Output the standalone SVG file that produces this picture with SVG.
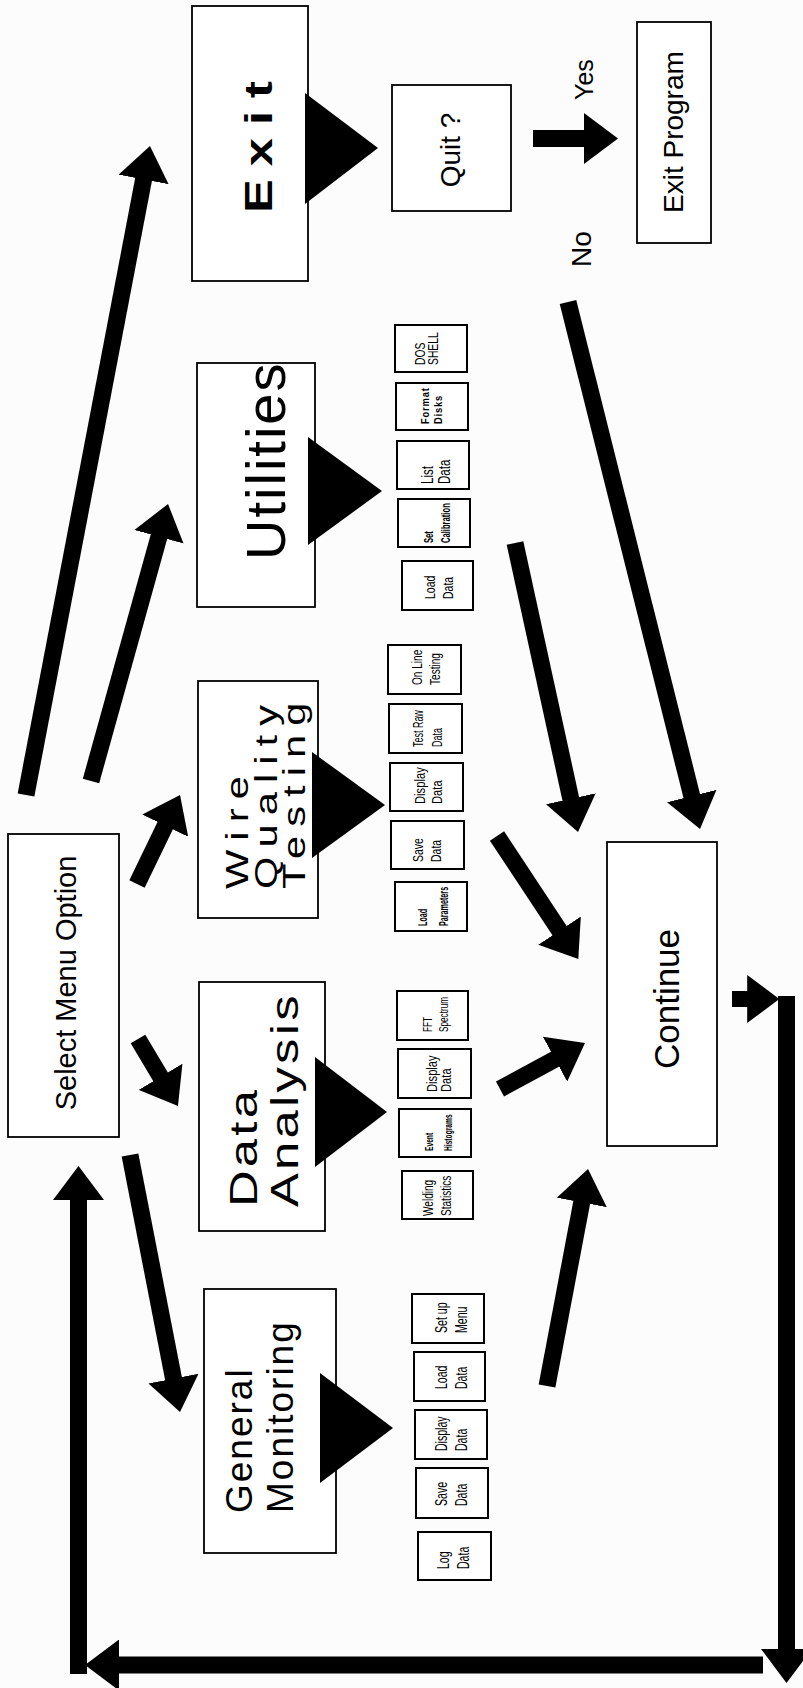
<svg xmlns="http://www.w3.org/2000/svg" width="803" height="1688" viewBox="0 0 803 1688">
<defs>
<style>
.box{fill:#fff;stroke:#000;stroke-width:1.8}
.sub{fill:#fff;stroke:#000;stroke-width:2}
.tri{fill:#000}
.arr{stroke:#000;stroke-width:17;fill:none;marker-end:url(#ah)}
text{font-family:"Liberation Sans",Arial,sans-serif;fill:#000}
.big{font-size:39px;letter-spacing:2.5px}
.sb{font-size:12px;font-weight:bold}
</style>
<marker id="ah" viewBox="0 0 2 3" markerWidth="2" markerHeight="3" refX="1.2" refY="1.5" orient="auto" markerUnits="strokeWidth"><path d="M0,0 L2,1.5 L0,3 z" fill="#000"/></marker>
</defs>
<rect width="803" height="1688" fill="#fcfcfc"/>

<g id="connectors">
<line class="arr" x1="26" y1="795" x2="147.4" y2="159.4"/>
<line class="arr" x1="91" y1="781" x2="164.4" y2="517.1"/>
<line class="arr" x1="137" y1="884" x2="174.1" y2="807.3"/>
<line class="arr" x1="138" y1="1039" x2="171" y2="1094.3"/>
<line class="arr" x1="130" y1="1155" x2="177.4" y2="1398.6"/>
<line class="arr" x1="533" y1="138.5" x2="604.4" y2="138.5"/>
<line class="arr" x1="568" y1="302" x2="696.7" y2="815.8"/>
<line class="arr" x1="515" y1="543" x2="575.1" y2="818.7"/>
<line class="arr" x1="497" y1="836" x2="570.8" y2="947.6"/>
<line class="arr" x1="500" y1="1089" x2="573" y2="1049.5"/>
<line class="arr" x1="547" y1="1386" x2="585.5" y2="1182.4"/>
<line class="arr" x1="732" y1="999" x2="766.4" y2="999" style="stroke-width:16"/>
<line class="arr" x1="786.5" y1="996" x2="786.5" y2="1669.4"/>
<line class="arr" x1="763" y1="1665" x2="98.6" y2="1665"/>
<line class="arr" x1="78.5" y1="1674" x2="78.5" y2="1179.6"/>
</g>

<g id="exit">
<rect class="box" x="192" y="6" width="116" height="275"/>
<text transform="translate(0,213) rotate(-90) scale(1.3,1)" style="font-size:39px;font-weight:bold;letter-spacing:10px"><tspan x="0" y="272">Exit</tspan></text>
<polygon class="tri" points="305,93 305,204 378,148"/>
</g>

<g id="quit">
<rect class="box" x="392" y="85" width="119" height="126"/>
<text transform="translate(0,150) rotate(-90)" style="font-size:28px" text-anchor="middle"><tspan x="0" y="460">Quit ?</tspan></text>
</g>

<g id="label-yes"><text transform="translate(0,100) rotate(-90)" style="font-size:25px"><tspan x="0" y="593">Yes</tspan></text></g>
<g id="label-no"><text transform="translate(0,267) rotate(-90)" style="font-size:28px"><tspan x="0" y="591">No</tspan></text></g>

<g id="exit-program">
<rect class="box" x="637" y="22" width="74" height="221"/>
<text transform="translate(0,213) rotate(-90)" style="font-size:28px"><tspan x="0" y="683">Exit Program</tspan></text>
</g>

<g id="utilities">
<rect class="box" x="197" y="363" width="118" height="244"/>
<text transform="translate(0,560) rotate(-90)" style="font-size:56px;letter-spacing:2px"><tspan x="0" y="285">Utilities</tspan></text>
<polygon class="tri" points="308,437 308,545 382,491"/>
</g>

<g id="wire-quality-testing">
<rect class="box" x="198" y="681" width="120" height="237"/>
<text transform="translate(0,889) rotate(-90) scale(1.3,1)" style="font-size:32px;letter-spacing:7px"><tspan x="0" y="248">Wire</tspan><tspan x="0" y="277">Quality</tspan><tspan x="0" y="305">Testing</tspan></text>
<polygon class="tri" points="312,752 312,858 385,805"/>
</g>

<g id="select-menu-option">
<rect class="box" x="8" y="834" width="111" height="303"/>
<text transform="translate(0,983) rotate(-90)" style="font-size:29px" text-anchor="middle"><tspan x="0" y="76">Select Menu Option</tspan></text>
</g>

<g id="data-analysis">
<rect class="box" x="199" y="982" width="126" height="249"/>
<text class="big" transform="translate(0,1207) rotate(-90) scale(1.3,1)"><tspan x="0" y="257">Data</tspan><tspan x="0" y="298">Analysis</tspan></text>
<polygon class="tri" points="315,1057 315,1167 387,1112"/>
</g>

<g id="continue">
<rect class="box" x="607" y="842" width="110" height="304"/>
<text transform="translate(0,999) rotate(-90)" style="font-size:35px" text-anchor="middle"><tspan x="0" y="679">Continue</tspan></text>
</g>

<g id="general-monitoring">
<rect class="box" x="204" y="1289" width="132" height="264"/>
<text transform="translate(0,1513) rotate(-90)" style="font-size:37px;letter-spacing:2px"><tspan x="0" y="252">General</tspan><tspan x="0" y="293">Monitoring</tspan></text>
<polygon class="tri" points="320,1373 320,1483 393,1428"/>
</g>

<g id="util-dos-shell">
<rect class="sub" x="395" y="325" width="72" height="47"/>
<text transform="translate(0,365) rotate(-90) scale(0.74,1)" style="font-size:14px"><tspan x="0" y="425">DOS</tspan><tspan x="0" y="438">SHELL</tspan></text>
</g>
<g id="util-format-disks">
<rect class="sub" x="396" y="383" width="72" height="47"/>
<text transform="translate(0,424) rotate(-90) scale(0.85,1)" style="font-size:11px;font-weight:bold;letter-spacing:1px"><tspan x="0" y="429">Format</tspan><tspan x="0" y="442">Disks</tspan></text>
</g>
<g id="util-list-data">
<rect class="sub" x="397" y="441" width="72" height="48"/>
<text transform="translate(0,484) rotate(-90) scale(0.72,1)" style="font-size:16px"><tspan x="0" y="433">List</tspan><tspan x="0" y="450">Data</tspan></text>
</g>
<g id="util-set-calibration">
<rect class="sub" x="398" y="499" width="72" height="48"/>
<text transform="translate(0,543) rotate(-90) scale(0.61,1)" style="font-size:12.5px;font-weight:bold"><tspan x="0" y="433">Set</tspan><tspan x="0" y="450">Calibration</tspan></text>
</g>
<g id="util-load-data">
<rect class="sub" x="402" y="561" width="71" height="49"/>
<text transform="translate(0,599) rotate(-90) scale(0.7,1)" style="font-size:15px"><tspan x="0" y="435">Load</tspan><tspan x="0" y="453">Data</tspan></text>
</g>

<g id="wqt-on-line-testing">
<rect class="sub" x="388" y="645" width="73" height="49"/>
<text transform="translate(0,685) rotate(-90) scale(0.72,1)" style="font-size:14px"><tspan x="0" y="422">On Line</tspan><tspan x="0" y="440">Testing</tspan></text>
</g>
<g id="wqt-test-raw-data">
<rect class="sub" x="389" y="704" width="73" height="49"/>
<text transform="translate(0,747) rotate(-90) scale(0.64,1)" style="font-size:14px"><tspan x="0" y="423">Test Raw</tspan><tspan x="0" y="442">Data</tspan></text>
</g>
<g id="wqt-display-data">
<rect class="sub" x="390" y="763" width="73" height="48"/>
<text transform="translate(0,804) rotate(-90) scale(0.75,1)" style="font-size:15px"><tspan x="0" y="425">Display</tspan><tspan x="0" y="442">Data</tspan></text>
</g>
<g id="wqt-save-data">
<rect class="sub" x="391" y="821" width="73" height="48"/>
<text transform="translate(0,862) rotate(-90) scale(0.7,1)" style="font-size:15px"><tspan x="0" y="423">Save</tspan><tspan x="0" y="441">Data</tspan></text>
</g>
<g id="wqt-load-parameters">
<rect class="sub" x="395" y="882" width="72" height="49"/>
<text class="sb" transform="translate(0,926) rotate(-90) scale(0.6,1)"><tspan x="0" y="427">Load</tspan><tspan x="0" y="448">Parameters</tspan></text>
</g>

<g id="da-fft-spectrum">
<rect class="sub" x="397" y="991" width="71" height="49"/>
<text transform="translate(0,1032) rotate(-90) scale(0.63,1)" style="font-size:13px"><tspan x="0" y="432">FFT</tspan><tspan x="0" y="448">Spectrum</tspan></text>
</g>
<g id="da-display-data">
<rect class="sub" x="398" y="1049" width="73" height="49"/>
<text transform="translate(0,1092) rotate(-90) scale(0.8,1)" style="font-size:14px"><tspan x="0" y="437">Display</tspan><tspan x="0" y="451">Data</tspan></text>
</g>
<g id="da-event-histograms">
<rect class="sub" x="399" y="1109" width="72" height="48"/>
<text transform="translate(0,1151) rotate(-90) scale(0.58,1)" style="font-size:11.5px;font-weight:bold"><tspan x="0" y="433">Event</tspan><tspan x="0" y="452">Histograms</tspan></text>
</g>
<g id="da-welding-statistics">
<rect class="sub" x="402" y="1171" width="71" height="48"/>
<text transform="translate(0,1216) rotate(-90) scale(0.72,1)" style="font-size:14px"><tspan x="0" y="433">Welding</tspan><tspan x="0" y="451">Statistics</tspan></text>
</g>

<g id="gm-set-up-menu">
<rect class="sub" x="412" y="1294" width="72" height="49"/>
<text transform="translate(0,1333) rotate(-90) scale(0.66,1)" style="font-size:16px"><tspan x="0" y="447">Set up</tspan><tspan x="0" y="467">Menu</tspan></text>
</g>
<g id="gm-load-data">
<rect class="sub" x="414" y="1352" width="71" height="49"/>
<text transform="translate(0,1389) rotate(-90) scale(0.66,1)" style="font-size:16px"><tspan x="0" y="447">Load</tspan><tspan x="0" y="467">Data</tspan></text>
</g>
<g id="gm-display-data">
<rect class="sub" x="415" y="1410" width="72" height="49"/>
<text transform="translate(0,1451) rotate(-90) scale(0.66,1)" style="font-size:16px"><tspan x="0" y="447">Display</tspan><tspan x="0" y="467">Data</tspan></text>
</g>
<g id="gm-save-data">
<rect class="sub" x="416" y="1468" width="72" height="50"/>
<text transform="translate(0,1506) rotate(-90) scale(0.66,1)" style="font-size:16px"><tspan x="0" y="447">Save</tspan><tspan x="0" y="467">Data</tspan></text>
</g>
<g id="gm-log-data">
<rect class="sub" x="418" y="1532" width="73" height="48"/>
<text transform="translate(0,1569) rotate(-90) scale(0.66,1)" style="font-size:16px"><tspan x="0" y="449">Log</tspan><tspan x="0" y="469">Data</tspan></text>
</g>
</svg>
